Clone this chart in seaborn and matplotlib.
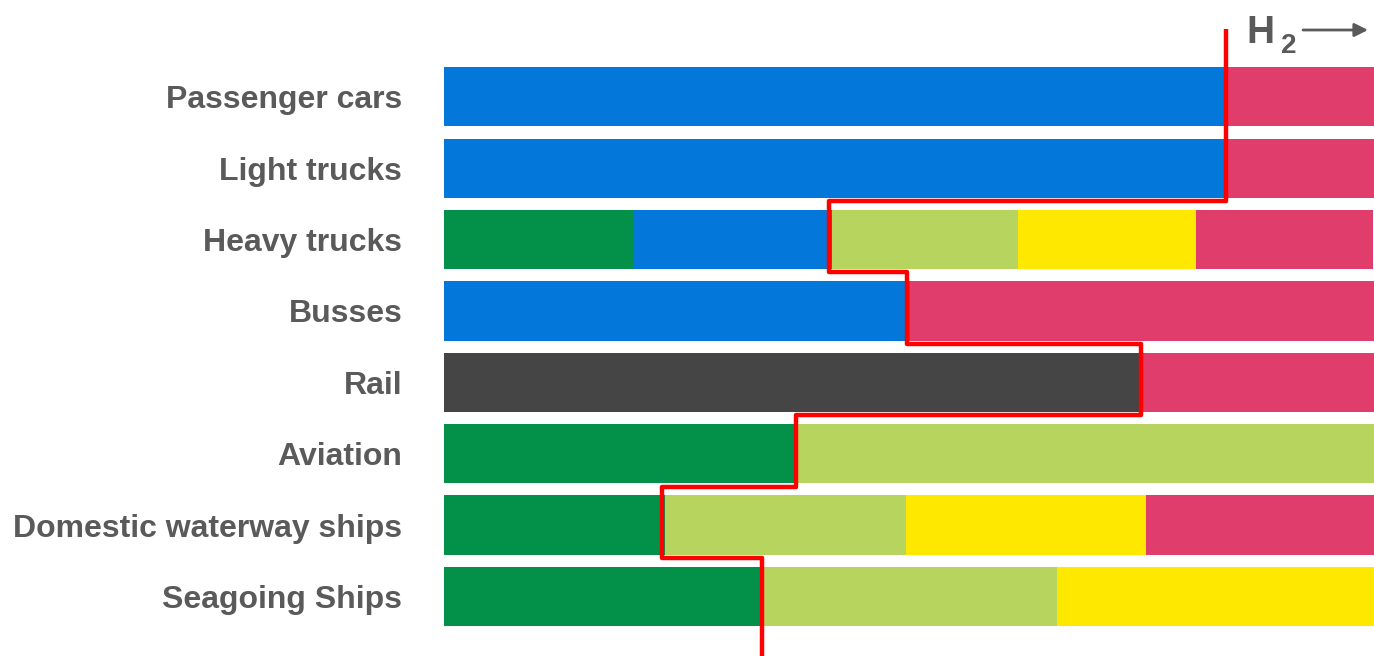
import matplotlib
matplotlib.use("Agg")
import matplotlib.pyplot as plt
import seaborn as sns
import pandas as pd
import numpy as np

# ---- data (shares in % of each transport mode) ----
modes = ["Passenger cars", "Light trucks", "Heavy trucks", "Busses", "Rail",
         "Aviation", "Domestic waterway ships", "Seagoing Ships"]
green = [0, 0, 20.3, 0, 0, 38.0, 23.8, 34.3]
blue = [84.3, 84.3, 21.4, 50.1, 0, 0, 0, 0]
dark = [0, 0, 0, 0, 74.9, 0, 0, 0]
lightgreen = [0, 0, 20.0, 0, 0, 62.0, 25.9, 31.6]
yellow = [0, 0, 19.2, 0, 0, 0, 25.8, 34.1]
pink = [15.7, 15.7, 19.0, 49.9, 25.1, 0, 24.5, 0]
# H2 threshold (red step line) per mode
h2_threshold = [84.1, 84.1, 41.4, 49.8, 74.9, 37.8, 23.4, 34.2]

techs = ["green", "blue", "dark", "lightgreen", "yellow", "pink"]
palette = {"green": "#03914A", "blue": "#0477DB", "dark": "#454545",
           "lightgreen": "#B7D55E", "yellow": "#FFE800", "pink": "#E03C6C"}
shares = {"green": green, "blue": blue, "dark": dark,
          "lightgreen": lightgreen, "yellow": yellow, "pink": pink}

sns.set_theme(style="white")
plt.rcParams["font.family"] = ["Liberation Sans", "DejaVu Sans"]

W, H = 1374, 656
fig = plt.figure(figsize=(W / 100, H / 100), dpi=100)
ax = fig.add_axes([444 / W, 0, 930 / W, 1])

# cumulative ends
cum = np.zeros(len(modes))
rows = []
for t in techs:
    vals = np.array(shares[t], dtype=float)
    cum = cum + vals
    for m, v, e in zip(modes, vals, cum):
        if v > 0:
            rows.append({"mode": m, "tech": t, "end": e, "level": techs.index(t)})
df = pd.DataFrame(rows)

# draw from right-most stack level to left so earlier segments cover later ones
for lvl in sorted(df["level"].unique(), reverse=True):
    sub = df[df["level"] == lvl]
    sns.barplot(data=sub, x="end", y="mode", hue="tech", palette=palette,
                order=modes, dodge=False, width=0.83, orient="h",
                legend=False, ax=ax, saturation=1, linewidth=0)

# red step line
xs, ys = [h2_threshold[0]], [-0.95]
for i, t in enumerate(h2_threshold):
    xs.append(t); ys.append(i + 0.46)
    if i + 1 < len(h2_threshold):
        xs.append(h2_threshold[i + 1]); ys.append(i + 0.46)
xs[-1] = h2_threshold[-1]
ys[-1] = 8.2
ax.plot(xs, ys, color="#FF0000", lw=3.2, solid_joinstyle="round",
        solid_capstyle="butt", clip_on=False, zorder=5)

ax.set_xlim(0, 100)
ax.set_ylim(7.833, -1.355)
ax.set_xlabel("")
ax.set_ylabel("")
ax.set_xticks([])
for s in ax.spines.values():
    s.set_visible(False)
ax.tick_params(axis="y", length=0, pad=30)
for lab in ax.get_yticklabels():
    lab.set_fontsize(23)
    lab.set_fontweight("bold")
    lab.set_color("#5A5A5A")

# H2 marker
fig.text(1246 / W, 1 - 43 / H, "H", fontsize=28, fontweight="bold",
         color="#5A5A5A", ha="left", va="baseline")
fig.text(1281 / W, 1 - 53 / H, "2", fontsize=20, fontweight="bold",
         color="#5A5A5A", ha="left", va="baseline")
fig.patches.append(matplotlib.patches.FancyArrowPatch(
    (1303 / W, 1 - 30 / H), (1368 / W, 1 - 30 / H),
    transform=fig.transFigure, arrowstyle="-|>", mutation_scale=20,
    lw=2, color="#5A5A5A", shrinkA=0, shrinkB=0))

fig.savefig("out.png", dpi=100)
